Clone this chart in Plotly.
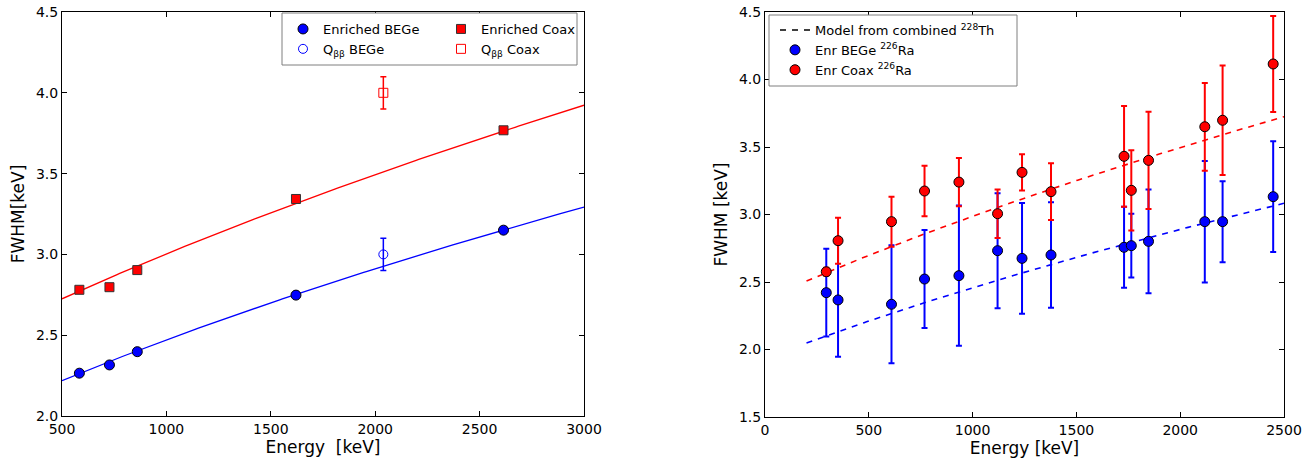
import numpy as np
import plotly.graph_objects as go

# ---------------- Left panel: 228Th calibration ----------------
th_energy = [583.2, 727.3, 860.6, 1620.5, 2614.5]
bege_fwhm = [2.265, 2.316, 2.398, 2.748, 3.150]
coax_fwhm = [2.781, 2.797, 2.903, 3.343, 3.768]
qbb_energy = [2039.0]
qbb_bege = [3.0]
qbb_bege_err = [0.1]
qbb_coax = [4.0]
qbb_coax_err = [0.1]
# fit FWHM = sqrt(a + b*E)
bege_fit = (3.740, 0.002368)
coax_fit = (5.833, 0.003186)
fit_range = (500, 3000)

# ---------------- Right panel: 226Ra lines ----------------
ra_energy = [295.2, 351.9, 609.3, 768.4, 934.1, 1120.3, 1238.1, 1377.7,
             1729.6, 1764.5, 1847.4, 2118.5, 2204.2, 2447.9]
ra_bege = [2.421, 2.367, 2.335, 2.522, 2.547, 2.732, 2.675, 2.700,
           2.757, 2.769, 2.801, 2.947, 2.947, 3.132]
ra_bege_err = [0.325, 0.42, 0.437, 0.363, 0.52, 0.426, 0.41, 0.39,
               0.30, 0.236, 0.385, 0.45, 0.30, 0.41]
ra_coax = [2.576, 2.806, 2.947, 3.174, 3.240, 3.006, 3.312, 3.169,
           3.431, 3.179, 3.401, 3.650, 3.698, 4.115]
ra_coax_err = [0.03, 0.17, 0.185, 0.187, 0.178, 0.18, 0.135, 0.21,
               0.373, 0.297, 0.36, 0.325, 0.405, 0.355]
model_bege = (3.732, 0.002309)
model_coax = (5.626, 0.003297)
model_range = (200, 2500)

W, H = 1316, 463
BLUE = "#0000ff"
RED = "#ff0000"
FONT = "DejaVu Sans"


def px(x):
    return x / W


def py(y):
    return 1 - y / H


def curve(params, rng):
    e = np.linspace(rng[0], rng[1], 200)
    return e, np.sqrt(params[0] + params[1] * e)


fig = go.Figure()

# Left panel
e, f = curve(bege_fit, fit_range)
fig.add_trace(go.Scatter(x=e, y=f, mode="lines", line=dict(color=BLUE, width=1.3),
                         showlegend=False, xaxis="x", yaxis="y"))
e, f = curve(coax_fit, fit_range)
fig.add_trace(go.Scatter(x=e, y=f, mode="lines", line=dict(color=RED, width=1.3),
                         showlegend=False, xaxis="x", yaxis="y"))

fig.add_trace(go.Scatter(x=th_energy, y=bege_fwhm, mode="markers", name="Enriched BEGe",
                         marker=dict(symbol="circle", size=10, color=BLUE,
                                     line=dict(color="black", width=1)),
                         xaxis="x", yaxis="y", legend="legend"))
fig.add_trace(go.Scatter(x=qbb_energy, y=qbb_bege, mode="markers", name="Q<sub>ββ</sub> BEGe",
                         marker=dict(symbol="circle-open", size=9, color=BLUE,
                                     line=dict(color=BLUE, width=1)),
                         error_y=dict(type="data", array=qbb_bege_err, color=BLUE,
                                      thickness=1.5, width=3),
                         xaxis="x", yaxis="y", legend="legend"))
fig.add_trace(go.Scatter(x=th_energy, y=coax_fwhm, mode="markers", name="Enriched Coax",
                         marker=dict(symbol="square", size=9, color=RED,
                                     line=dict(color="#333333", width=1)),
                         xaxis="x", yaxis="y", legend="legend2"))
fig.add_trace(go.Scatter(x=qbb_energy, y=qbb_coax, mode="markers", name="Q<sub>ββ</sub> Coax",
                         marker=dict(symbol="square-open", size=9, color=RED,
                                     line=dict(color=RED, width=1)),
                         error_y=dict(type="data", array=qbb_coax_err, color=RED,
                                      thickness=1.5, width=3),
                         xaxis="x", yaxis="y", legend="legend2"))

# Right panel
fig.add_trace(go.Scatter(x=[None], y=[None], mode="lines",
                         name="Model from combined <sup>228</sup>Th",
                         line=dict(color="black", width=1.5, dash="6px,6px"),
                         xaxis="x2", yaxis="y2", legend="legend3"))
e, f = curve(model_bege, model_range)
fig.add_trace(go.Scatter(x=e, y=f, mode="lines", line=dict(color=BLUE, width=1.6, dash="6px,6px"),
                         showlegend=False, xaxis="x2", yaxis="y2"))
e, f = curve(model_coax, model_range)
fig.add_trace(go.Scatter(x=e, y=f, mode="lines", line=dict(color=RED, width=1.6, dash="6px,6px"),
                         showlegend=False, xaxis="x2", yaxis="y2"))
fig.add_trace(go.Scatter(x=ra_energy, y=ra_bege, mode="markers", name="Enr BEGe <sup>226</sup>Ra",
                         marker=dict(symbol="circle", size=10, color=BLUE,
                                     line=dict(color="black", width=1)),
                         error_y=dict(type="data", array=ra_bege_err, color=BLUE,
                                      thickness=2, width=3),
                         xaxis="x2", yaxis="y2", legend="legend3"))
fig.add_trace(go.Scatter(x=ra_energy, y=ra_coax, mode="markers", name="Enr Coax <sup>226</sup>Ra",
                         marker=dict(symbol="circle", size=10, color=RED,
                                     line=dict(color="black", width=1)),
                         error_y=dict(type="data", array=ra_coax_err, color=RED,
                                      thickness=2, width=3),
                         xaxis="x2", yaxis="y2", legend="legend3"))

axis_common = dict(showline=True, linecolor="black", linewidth=1, mirror="allticks",
                   ticks="inside", ticklen=5, tickwidth=1, tickcolor="black",
                   showgrid=False, zeroline=False, automargin=False,
                   ticklabeloverflow="allow",
                   tickfont=dict(family=FONT, size=14, color="black"))

fig.update_layout(
    width=W, height=H,
    margin=dict(l=0, r=0, t=0, b=0, autoexpand=False),
    paper_bgcolor="white", plot_bgcolor="white",
    font=dict(family=FONT, color="black"),
    xaxis=dict(domain=[px(62), px(584)], range=[500, 3000], tick0=0, dtick=500,
               title=dict(text="Energy\u00a0 [keV]", font=dict(size=17), standoff=4),
               anchor="y", **axis_common),
    yaxis=dict(domain=[py(416), py(12)], range=[2.0, 4.5], dtick=0.5, tickformat=".1f",
               title=dict(text="FWHM[keV]", font=dict(size=17), standoff=6),
               anchor="x", **axis_common),
    xaxis2=dict(domain=[px(765), px(1284)], range=[0, 2500], tick0=0, dtick=500,
                title=dict(text="Energy [keV]", font=dict(size=17), standoff=4),
                anchor="y2", **axis_common),
    yaxis2=dict(domain=[py(417), py(12)], range=[1.5, 4.5], dtick=0.5, tickformat=".1f",
                title=dict(text="FWHM [keV]", font=dict(size=17), standoff=6),
                anchor="x2", **axis_common),
    legend=dict(x=px(283), y=py(14), xanchor="left", yanchor="top",
                bgcolor="rgba(0,0,0,0)", borderwidth=0,
                font=dict(family=FONT, size=13, color="black"), tracegroupgap=0),
    legend2=dict(x=px(441), y=py(14), xanchor="left", yanchor="top",
                 bgcolor="rgba(0,0,0,0)", borderwidth=0,
                 font=dict(family=FONT, size=13, color="black"), tracegroupgap=0),
    legend3=dict(x=px(775), y=py(15), xanchor="left", yanchor="top",
                 bgcolor="rgba(0,0,0,0)", borderwidth=0,
                 font=dict(family=FONT, size=13, color="black"), tracegroupgap=0),
    shapes=[
        dict(type="rect", xref="paper", yref="paper", x0=px(282), x1=px(577),
             y0=py(65), y1=py(13), line=dict(color="#7f7f7f", width=1),
             fillcolor="white", layer="above"),
        dict(type="rect", xref="paper", yref="paper", x0=px(769), x1=px(1017),
             y0=py(86), y1=py(15), line=dict(color="#7f7f7f", width=1),
             fillcolor="white", layer="above"),
    ],
    showlegend=True,
)

fig.write_html("out.html", config={"displayModeBar": False},
               post_script="document.body.style.margin='0px';")
